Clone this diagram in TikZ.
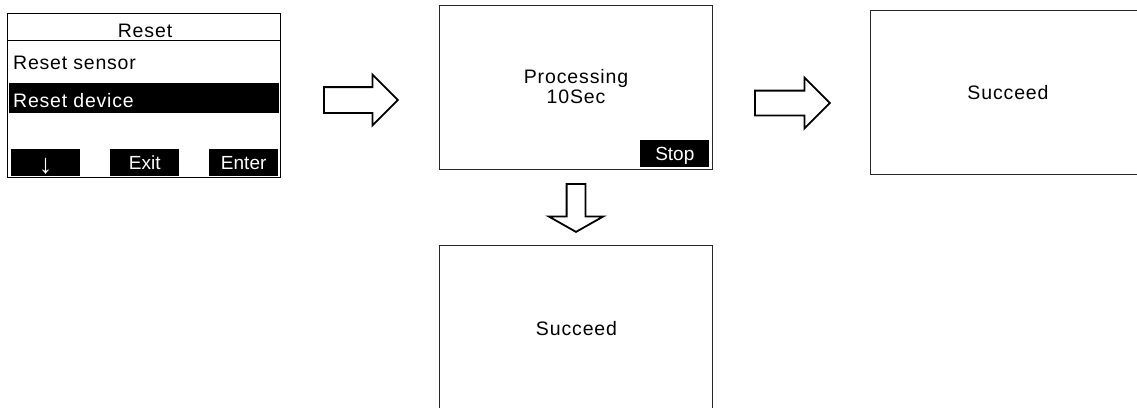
\documentclass[tikz,border=0pt]{standalone}
\usepackage{fontspec}
\setmainfont{Liberation Sans}
\newfontfamily\spacedfont[LetterSpace=4.5]{Liberation Sans}
\newfontfamily\itemfont[LetterSpace=4]{Liberation Sans}
\usetikzlibrary{shapes.arrows,positioning}

\begin{document}
\begin{tikzpicture}[
      x=1pt, y=-1pt,
      screen/.style={draw=black!85, line width=1pt, minimum width=273pt,
      minimum height=164pt, inner sep=0pt},
      softkey/.style={fill=black, text=white, minimum width=69pt,
      minimum height=27pt, inner sep=0pt, text height=14pt, text depth=0pt,
      font=\fontsize{19}{21}\selectfont},
      msg/.style={font=\spacedfont\fontsize{19.5}{19.5}\selectfont, align=center,
      inner sep=0pt},
      entry/.style={font=\itemfont\fontsize{19.5}{21}\selectfont,
      anchor=base west, inner sep=0pt},
      hollow/.style={single arrow, draw, line width=1.8pt, fill=white,
      inner sep=0pt, text width=0pt, text depth=0pt, anchor=tail,
      single arrow head indent=0pt}
    ]
    \useasboundingbox (0,0) rectangle (1137,407);
    \clip (0,0) rectangle (1137,407);

    % menu screen
    \node[screen, draw=black] (menu) at (143.5,95) {};
    \draw[line width=1pt] (menu.west |- 0,40) -- (menu.east |- 0,40);
    \node[msg, anchor=base] (title) at (145,37) {Reset};
    \node[fill=black, minimum width=270pt, minimum height=30pt, inner sep=0pt,
    anchor=north west] (bar) at (9,83) {};
    \node[entry] (sensor) at (13,69) {Reset sensor};
    \node[entry, text=white] (device) at (13,107) {Reset device};
    \node[softkey, anchor=north west] (down) at (11,149)
    {\raisebox{-4pt}{\fontsize{27}{27}\selectfont ↓}};
    \node[softkey, anchor=north west] (exit) at (110,149) {Exit};
    \node[softkey, anchor=north west] (enter) at (209,149) {Enter};

    % processing screen
    \node[screen] (proc) at (575.5,87) {};
    \node[msg] (count) at (576,86.5) {Processing\\10Sec};
    \node[softkey, anchor=south east] (stop) at ([xshift=-3pt,yshift=2pt]proc.south east) {Stop};

    % result screens
    \node[screen] (done) at (1006.5,92) {};
    \node[msg] (donetext) at (1008,92.5) {Succeed};
    \node[screen] (result) at (575.5,327) {};
    \node[msg] (resulttext) at (576.5,329) {Succeed};

    % hollow arrows
    \node[hollow, text height=24pt, minimum height=74pt,
    single arrow head extend=12.5pt] (go) at (323,100) {};
    \node[hollow, text height=23pt, minimum height=75pt,
    single arrow head extend=13pt] (ok) at (754,103) {};
    \node[hollow, rotate=-90, text height=17pt, minimum height=48pt,
    single arrow head extend=18pt, single arrow tip angle=121] (stopped)
    at (576,183) {};
  \end{tikzpicture}
\end{document}
